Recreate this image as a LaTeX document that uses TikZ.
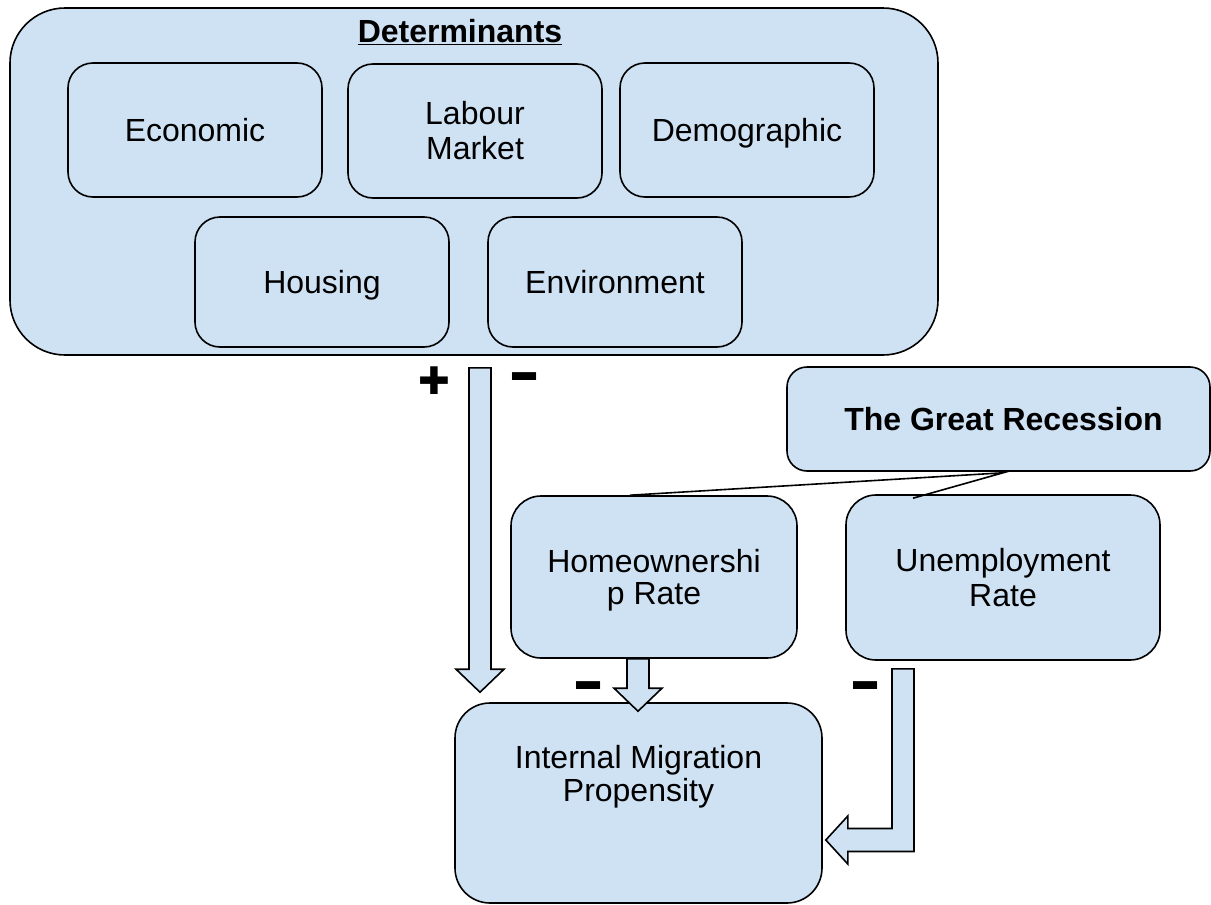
\documentclass[tikz,border=0pt]{standalone}
\usepackage{fontspec}
\usepackage{graphicx}
\setmainfont{Liberation Sans}
\newfontfamily\signfont{DejaVu Sans}
\usetikzlibrary{calc}
\definecolor{boxblue}{RGB}{207,226,243}

% hollow block arrow pointing down, from shaft top #1 to tip #2
\newcommand\blockdown[2]{%
  \draw[blockarrow] ($(#1)+(-11,0)$) -- ($(#1)+(11,0)$) -- ($(#2)+(11,-23)$)
    -- ($(#2)+(24,-23)$) -- (#2) -- ($(#2)+(-24,-23)$) -- ($(#2)+(-11,-23)$) -- cycle;
}
\newcommand\heavyminus{\scalebox{1}[1.5]{\fontsize{48}{48}\selectfont\bfseries −}}

\begin{document}
\begin{tikzpicture}[x=1pt,y=-1pt]
  \tikzset{
    box/.style={draw, line width=1.6pt, fill=boxblue, rounded corners=25pt,
      minimum width=254pt, minimum height=134pt, align=center, inner sep=0pt,
      font=\fontsize{32}{35}\selectfont},
    oneline/.style={text height=23pt, text depth=0pt},
    blockarrow/.style={draw, line width=1.6pt, fill=boxblue, line join=miter},
    sign/.style={inner sep=0pt}
  }
  \useasboundingbox (0,0) rectangle (1211,905);

  % determinants frame
  \node[box, rounded corners=55pt, minimum width=928pt, minimum height=347pt] (det) at (474,181.5) {};
  \node[font=\fontsize{32}{35}\selectfont\bfseries] (dettitle) at (460,32) {\underline{Determinants}};
  \node[box, oneline] (econ) at (195,130) {Economic};
  \node[box] (labour) at (475,131) {Labour\\Market};
  \node[box, oneline] (demo) at (747,130) {Demographic};
  \node[box, oneline, minimum height=130pt] (housing) at (322,282) {Housing};
  \node[box, oneline, minimum height=130pt] (env) at (615,282) {Environment};

  % recession and its two channels
  \node[box, oneline, rounded corners=20pt, minimum width=423pt, minimum height=104pt,
    font=\fontsize{32}{35}\selectfont\bfseries] (recession) at (998.5,419) {\hspace*{10pt}The Great Recession};
  \node[box, rounded corners=30pt, minimum width=286pt, minimum height=162pt, text depth=0pt,
    font=\fontsize{32}{32}\selectfont] (homeown) at (654,577) {Homeownershi\\p Rate};
  \node[box, rounded corners=30pt, minimum width=314pt, minimum height=165pt] (unemp) at (1003,577.5) {Unemployment\\Rate};

  \node[box, rounded corners=35pt, minimum width=367pt, minimum height=200pt] (migration) at (638.5,803) {};
  \node[font=\fontsize{32}{33}\selectfont, align=center, inner sep=0pt] (migtext) at ($(migration)+(0,-26)$) {Internal Migration\\Propensity};

  % arrows
  \coordinate (mtop) at ($(det.south)+(6,12)$);
  \coordinate (mtip) at ($(migration.north)+(-158.5,-10)$);
  \coordinate (htop) at ($(homeown.south)+(-16,0)$);
  \coordinate (htip) at ($(migration.north)+(-0.5,9)$);
  \blockdown{mtop}{mtip}
  \blockdown{htop}{htip}

  \coordinate (utop) at ($(unemp.south)+(-100,8)$);
  \coordinate (utip) at ($(migration.east)+(3,37)$);
  \draw[blockarrow] ($(utop)+(-11,0)$) -- ($(utop)+(11,0)$) -- ($(utop |- utip)+(11,11.5)$)
    -- ($(utip)+(22,11.5)$) -- ($(utip)+(22,24)$) -- (utip) -- ($(utip)+(22,-24)$)
    -- ($(utip)+(22,-11.5)$) -- ($(utop |- utip)+(-11,-11.5)$) -- cycle;

  % callout leaders
  \coordinate (callout) at ($(recession.south)+(4.5,1)$);
  \coordinate (hlead) at ($(homeown.north)+(-24,0)$);
  \coordinate (ulead) at ($(unemp.north)+(-90,4)$);
  \draw[line width=1.6pt] (hlead) -- (callout) -- (ulead);

  % signs
  \node[sign, font=\signfont\bfseries\fontsize{38}{38}\selectfont] (plus) at (434,381) {✚};
  \node[sign] (minusa) at (525,387) {\heavyminus};
  \node[sign] (minusb) at (589,696) {\heavyminus};
  \node[sign] (minusc) at (866,696) {\heavyminus};
\end{tikzpicture}
\end{document}
